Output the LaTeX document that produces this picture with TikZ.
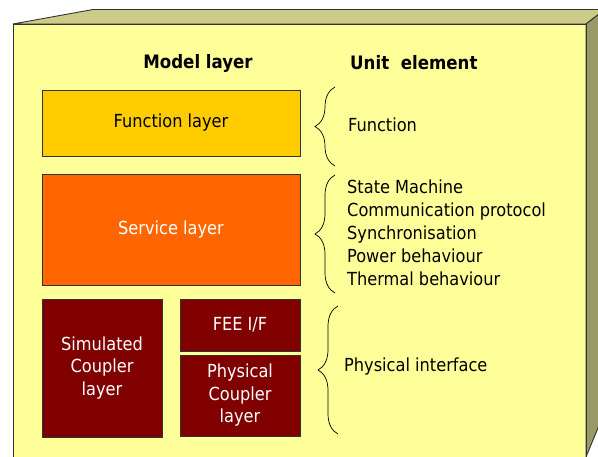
\documentclass[tikz,border=0pt]{standalone}
\usepackage{fontspec}
\setmainfont{DejaVu Sans Condensed}
\usetikzlibrary{decorations.pathreplacing}
\definecolor{frontc}{HTML}{FFFF99}
\definecolor{topc}{HTML}{CCCC88}
\definecolor{sidec}{HTML}{999966}
\definecolor{edgec}{HTML}{333333}
\definecolor{funcc}{HTML}{FFCC00}
\definecolor{servc}{HTML}{FF6600}
\definecolor{maroonc}{HTML}{800000}
\tikzset{
  edge/.style={draw=edgec, line width=0.9pt, line join=round},
  layerbox/.style={draw=black!80, line width=0.6pt, inner sep=0pt, align=center,
    font=\fontsize{18}{22.5}\selectfont},
  header/.style={font=\fontsize{18.5}{20}\selectfont\bfseries, inner sep=0pt},
  unittext/.style={font=\fontsize{18}{23}\selectfont, anchor=west, inner sep=0pt, align=left},
  bracedec/.style={draw=black, line width=0.7pt, decorate, decoration={brace, amplitude=20pt}}
}
\begin{document}
\begin{tikzpicture}[x=1pt,y=-1pt]
\useasboundingbox (0,0) rectangle (598,457);
\begin{scope}
\clip (0,0) rectangle (598,457);
\fill[frontc] (13,24) rectangle (586,470);
\filldraw[fill=topc, edge] (13,24) -- (93,9.5) -- (605,9.5) -- (586,24) -- cycle;
\filldraw[fill=sidec, edge] (586,24) -- (605,9.5) -- (605,411) -- (586,457) -- cycle;
\draw[edge] (13,470) -- (13,24) -- (586,24) -- (586,470);
\end{scope}

\node[header] (mh) at (198,63) {Model layer};
\node[header, anchor=west] (uh) at (350,63) {Unit\ \ element};

\node[layerbox, fill=funcc, minimum width=258pt, minimum height=66pt] (func) at (171,123) {Function layer};
\node[layerbox, fill=servc, text=white, minimum width=258pt, minimum height=111pt] (serv) at (171,229.5) {Service layer};
\node[layerbox, fill=maroonc, text=white, minimum width=120pt, minimum height=138pt] (sim) at (102,368) {Simulated\\Coupler\\layer};
\node[layerbox, fill=maroonc, text=white, minimum width=120pt, minimum height=52pt] (fee) at (240,325) {FEE I/F};
\node[layerbox, fill=maroonc, text=white, minimum width=120pt, minimum height=81pt] (phys) at (240,395.5) {Physical\\Coupler\\layer};

\draw[bracedec] (335,166) -- (335,87);
\draw[bracedec] (335,293) -- (335,175);
\draw[bracedec] (338,434) -- (338,306);

\node[unittext] (ufunc) at (348,125) {Function};
\node[unittext] (userv) at (347,232.5) {State Machine\\Communication protocol\\Synchronisation\\Power behaviour\\Thermal behaviour};
\node[unittext] (uphys) at (344,367) {Physical interface};
\end{tikzpicture}
\end{document}
